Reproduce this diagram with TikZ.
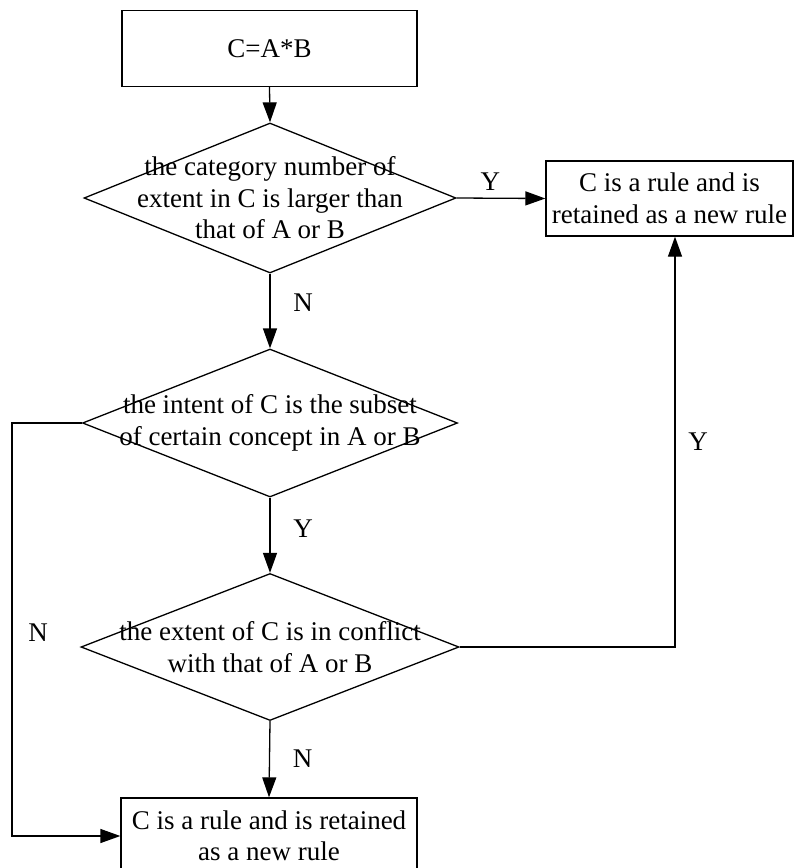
\documentclass[tikz,border=0pt]{standalone}
\usepackage{fontspec}
\setmainfont{Liberation Serif}
\usetikzlibrary{shapes.geometric,arrows.meta}

\begin{document}
\begin{tikzpicture}[x=5pt,y=-5pt,line width=0.65pt,
	every node/.style={font=\fontsize{13.5}{15.75}\selectfont},
	box/.style={draw,rectangle,inner sep=0pt},
	decision/.style={draw,diamond,inner sep=0pt},
	flow/.style={-{Triangle[length=10pt,width=7pt]}}]
	\useasboundingbox (0,0) rectangle (79.5,86.8);
		\node[box,minimum width=147.5pt,minimum height=38pt] (start) at (26.95,4.85) {C=A*B};
		\node[decision,minimum width=186pt,minimum height=75pt] (cond1) at (27,19.8) {};
		\node[align=center] at (cond1) {the category number of\\extent in C is larger than\\that of A or B};
		\node[box,minimum width=123.5pt,minimum height=37.5pt,align=center] (rule1) at (66.95,19.85) {C is a rule and is\\retained as a new rule};
		\node[decision,minimum width=187.5pt,minimum height=74pt] (cond2) at (27,42.3) {};
		\node[align=center] at (cond2) {the intent of C is the subset\\of certain concept in A or B};
		\node[decision,minimum width=189pt,minimum height=73.5pt] (cond3) at (27,64.7) {};
		\node[align=center] at (cond3) {the extent of C is in conflict\\with that of A or B};
		\node[box,minimum width=148pt,minimum height=38pt,align=center] (rule2) at (26.9,83.6) {C is a rule and is retained\\as a new rule};
		\coordinate (turnL) at (1.2,42.3);
		\coordinate (turnR) at (67.5,64.7);
	%	connectors
		\draw[flow] (start.south) -- (cond1.north);
		\draw[flow] (cond1.east) -- node[above,pos=0.38] {Y} (rule1.west);
		\draw[flow] (cond1.south) -- node[right=8pt,pos=0.39] {N} (cond2.north);
		\draw[flow] (cond2.south) -- node[right=8pt,pos=0.41] {Y} (cond3.north);
		\draw[flow] (cond3.south) -- node[right=8pt,pos=0.49] {N} (rule2.north);
		\draw[flow] (cond3.east) -- (turnR) -- node[right=3pt,pos=0.5] {Y} (turnR |- rule1.south);
		\draw[flow] (cond2.west) -- (turnL) |- node[right=4.5pt,pos=0.254] {N} (rule2.west);
	\end{tikzpicture}
\end{document}
